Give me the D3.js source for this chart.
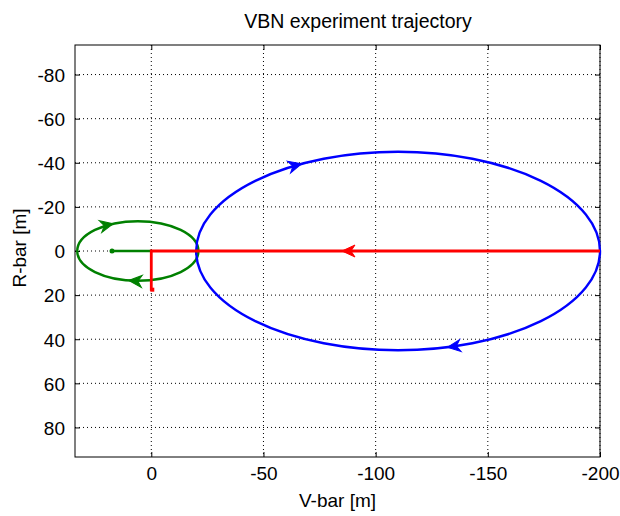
<!DOCTYPE html>
<html>
<head>
<meta charset="utf-8">
<script src="https://cdn.jsdelivr.net/npm/d3@7"></script>
<style>
  body { margin: 0; background: #fff; }
  text { font-family: "Liberation Sans", Arial, Helvetica, sans-serif; }
</style>
</head>
<body>
<div id="chart"></div>
<script>
// ---- data ----
var vTicks = [0, -50, -100, -150, -200];
var rTicks = [-80, -60, -40, -20, 0, 20, 40, 60, 80];

// two closed orbits (green drift loop, blue football)
var orbitCenterV = [6, -110];
var orbitCenterR = [0, 0];
var orbitHalfV = [27, 90];
var orbitHalfR = [13.5, 45];
// arrow positions on each orbit: V on upper half, V on lower half
var orbitArrowTopV = [17, -67];
var orbitArrowBotV = [10, -132];

// red transfer: along V-bar back to target then down R-bar
var transferV = [-200, 0, 0];
var transferR = [0, 0, 18];
var transferArrowV = [-85];

// green drift segment
var driftV = [17.5, 0];
var driftR = [0, 0];

// ---- styles ----
var orbitColors = ["#008000", "#0000ff"];
var transferColor = "#ff0000";

var width = 620, height = 516;
var box = { left: 75, right: 600, top: 45, bottom: 457 };

var svg = d3.select("#chart").append("svg")
    .attr("width", width)
    .attr("height", height);

var x = d3.scaleLinear().domain([34, -200]).range([box.left, box.right]);
var y = d3.scaleLinear().domain([-93.4, 93.4]).range([box.top, box.bottom]);

//grid
var grid = svg.append("g");
grid.selectAll("line.gv").data(vTicks).enter().append("line")
    .attr("x1", function(d) { return x(d); })
    .attr("x2", function(d) { return x(d); })
    .attr("y1", box.top).attr("y2", box.bottom)
    .attr("stroke", "#000").attr("stroke-width", 1)
    .attr("stroke-dasharray", "1,3");
grid.selectAll("line.gr").data(rTicks).enter().append("line")
    .attr("y1", function(d) { return y(d); })
    .attr("y2", function(d) { return y(d); })
    .attr("x1", box.left).attr("x2", box.right)
    .attr("stroke", "#000").attr("stroke-width", 1)
    .attr("stroke-dasharray", "1,3");

function fmt(d) { return String(d); }

//axes, ticks inward like matlab
var axB = svg.append("g").attr("transform", "translate(0," + box.bottom + ")")
    .call(d3.axisBottom(x).tickValues(vTicks).tickSize(-5).tickPadding(9.5).tickFormat(fmt));
var axT = svg.append("g").attr("transform", "translate(0," + box.top + ")")
    .call(d3.axisTop(x).tickValues(vTicks).tickSize(-5).tickFormat(""));
var axL = svg.append("g").attr("transform", "translate(" + box.left + ",0)")
    .call(d3.axisLeft(y).tickValues(rTicks).tickSize(-5).tickPadding(10).tickFormat(fmt));
var axR = svg.append("g").attr("transform", "translate(" + box.right + ",0)")
    .call(d3.axisRight(y).tickValues(rTicks).tickSize(-5).tickFormat(""));

[axB, axT, axL, axR].forEach(function(a) {
    a.select(".domain").remove();
    a.selectAll(".tick line").attr("stroke", "#000");
    a.selectAll("text")
        .attr("font-size", "19px")
        .attr("font-family", "Liberation Sans, Arial, sans-serif")
        .attr("fill", "#000");
});
axL.selectAll("text").attr("dy", "0.36em");

svg.append("rect")
    .attr("x", box.left).attr("y", box.top)
    .attr("width", box.right - box.left).attr("height", box.bottom - box.top)
    .attr("fill", "none").attr("stroke", "#000").attr("stroke-width", 1);

var plot = svg.append("g");

// arrowhead shape, tip at origin pointing +x
var headPath = "M0,0 L-13,-6 L-9,0 L-13,6 Z";
function drawHead(px, py, ang, color) {
    plot.append("path")
        .attr("d", headPath)
        .attr("fill", color)
        .attr("stroke", color)
        .attr("stroke-width", 1)
        .attr("transform", "translate(" + px + "," + py + ") rotate(" + (ang * 180 / Math.PI) + ")");
}

// orbits
orbitCenterV.forEach(function(cv, i) {
    var X = x(cv), Y = y(orbitCenterR[i]);
    var A = Math.abs(x(cv + orbitHalfV[i]) - X);
    var B = Math.abs(y(orbitCenterR[i] + orbitHalfR[i]) - Y);
    plot.append("ellipse")
        .attr("cx", X).attr("cy", Y)
        .attr("rx", A).attr("ry", B)
        .attr("fill", "none")
        .attr("stroke", orbitColors[i])
        .attr("stroke-width", 2.4);

    // clockwise on screen: top moving right, bottom moving left
    [[orbitArrowTopV[i], -1], [orbitArrowBotV[i], 1]].forEach(function(p) {
        var px = x(p[0]);
        var c = Math.max(-1, Math.min(1, (px - X) / A));
        var s = p[1] * Math.sqrt(1 - c * c);
        var py = Y + B * s;
        var ang = Math.atan2(B * c, -A * s);
        drawHead(px, py, ang, orbitColors[i]);
    });
});

// drift segment (green) with start dot
var line = d3.line()
    .x(function(d) { return x(d[0]); })
    .y(function(d) { return y(d[1]); });

plot.append("path")
    .attr("d", line(d3.zip(driftV, driftR)))
    .attr("fill", "none")
    .attr("stroke", orbitColors[0])
    .attr("stroke-width", 2.4);
plot.append("circle")
    .attr("cx", x(driftV[0])).attr("cy", y(driftR[0]))
    .attr("r", 2.5)
    .attr("fill", orbitColors[0]);

// transfer (red)
plot.append("path")
    .attr("d", line(d3.zip(transferV, transferR)))
    .attr("fill", "none")
    .attr("stroke", transferColor)
    .attr("stroke-width", 2.8);
plot.append("rect")
    .attr("x", x(transferV[2]) - 1).attr("y", y(transferR[2]) - 3)
    .attr("width", 4).attr("height", 4)
    .attr("fill", transferColor);
transferArrowV.forEach(function(v) {
    drawHead(x(v), y(0), Math.PI, transferColor);
});

// labels
svg.append("text")
    .attr("x", 358).attr("y", 28)
    .attr("text-anchor", "middle")
    .attr("font-size", "19.5px")
    .text("VBN experiment trajectory");

svg.append("text")
    .attr("x", (box.left + box.right) / 2).attr("y", 507)
    .attr("text-anchor", "middle")
    .attr("font-size", "19px")
    .text("V-bar [m]");

svg.append("text")
    .attr("transform", "translate(26,248) rotate(-90)")
    .attr("text-anchor", "middle")
    .attr("font-size", "19px")
    .text("R-bar [m]");
</script>
</body>
</html>
